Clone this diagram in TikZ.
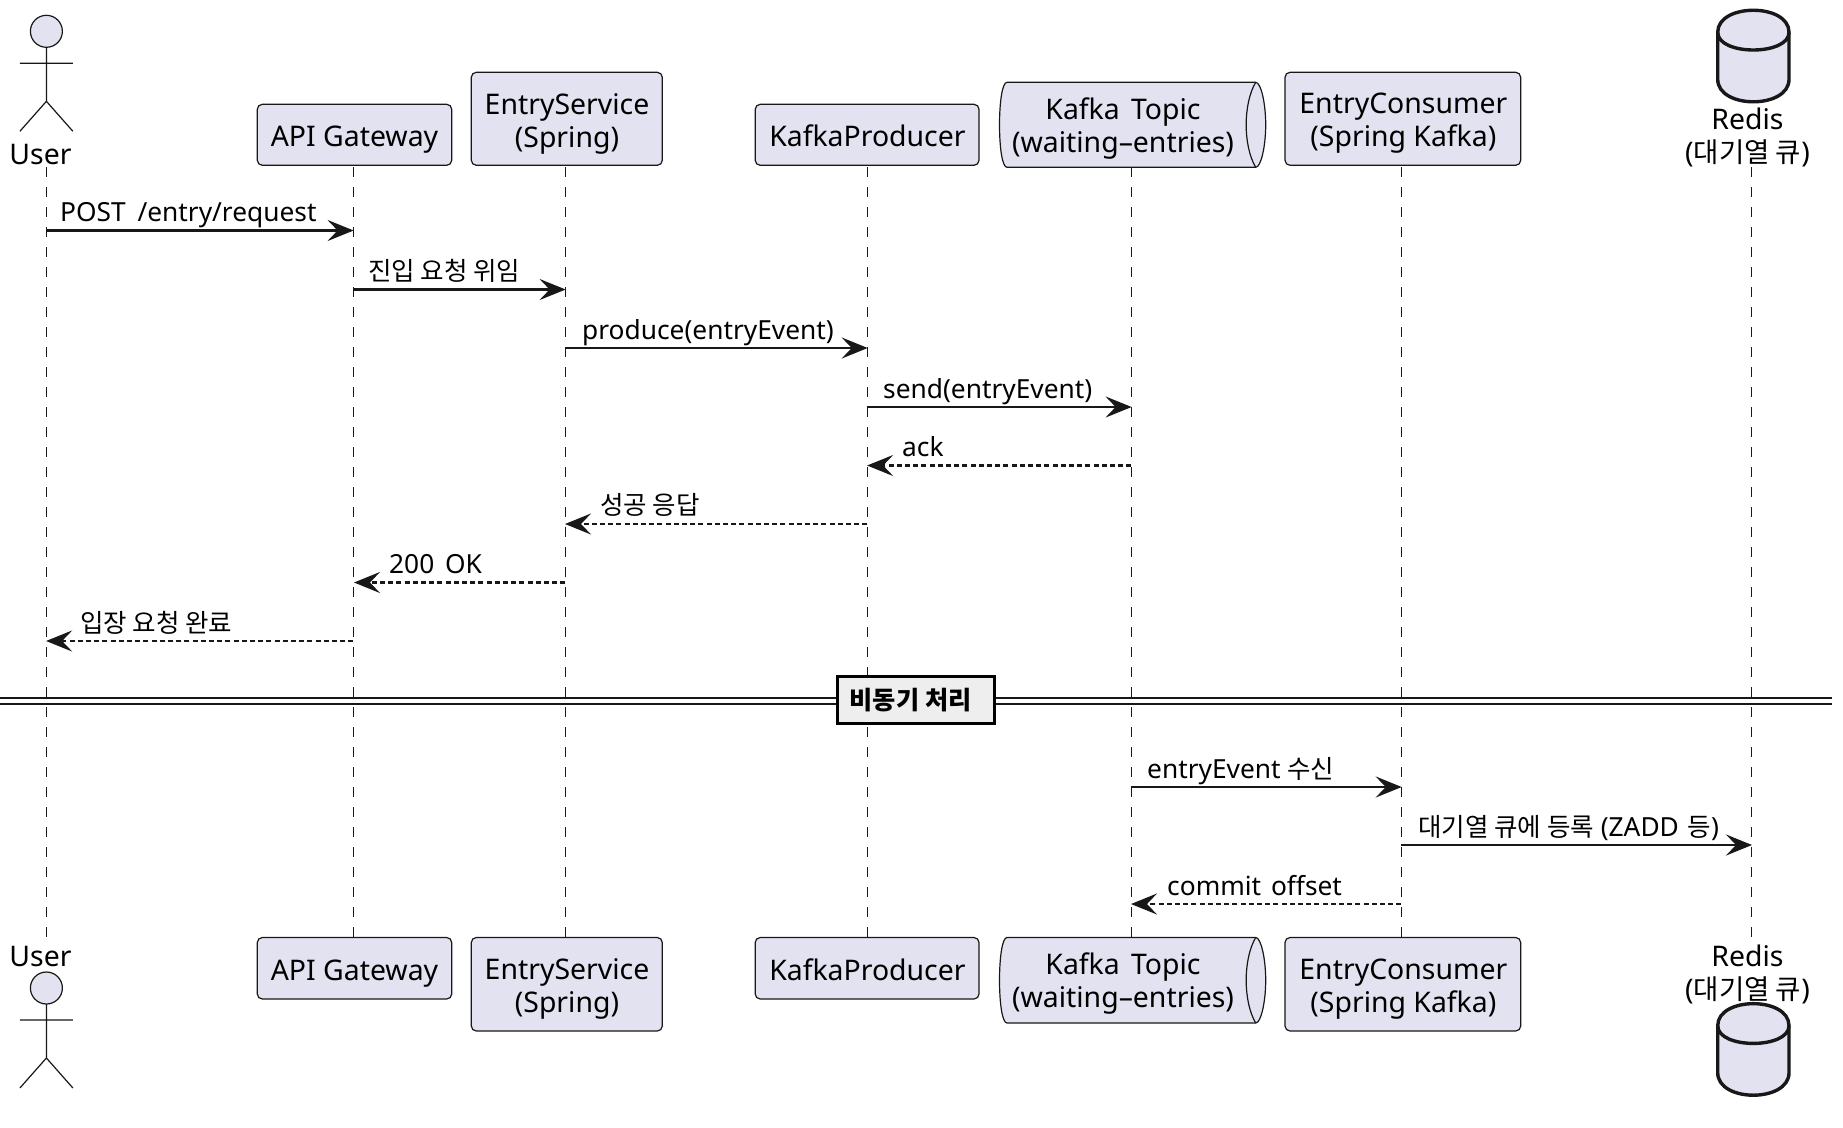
\documentclass[tikz,border=0pt]{standalone}
\usepackage{fontspec}
\setmainfont{Noto Sans}
\newfontfamily\kr[Scale=0.97]{Noto Sans CJK KR}
\usetikzlibrary{arrows.meta}
\definecolor{pfill}{HTML}{E2E2F0}
\definecolor{pline}{HTML}{181818}
\definecolor{dfill}{HTML}{EEEEEE}
\tikzset{x=1pt,y=-1pt,
 pbox/.style={draw=pline,fill=pfill,line width=1.2pt,rounded corners=5pt},
 ptext/.style={font=\fontsize{28.4}{33}\selectfont,text=black,align=center,inner sep=0pt,execute at begin node=\rule{0pt}{23pt},execute at end node=\rule[-7pt]{0pt}{7pt}},
 mtext/.style={font=\fontsize{26.3}{30}\selectfont,text=black,anchor=base west,inner sep=0pt},
 life/.style={draw=pline,line width=1.2pt,dash pattern=on 10.4pt off 9.6pt},
 sync/.style={draw=pline,line width=2.4pt,-{Stealth[length=26pt,width=21pt,inset=10pt]}},
 resp/.style={draw=pline,line width=2.4pt,dash pattern=on 5pt off 3.2pt,-{Stealth[length=26pt,width=21pt,inset=10pt]}},
 actorline/.style={draw=pline,line width=1.2pt},
 dbline/.style={draw=pline,fill=pfill,line width=3.4pt}}
\newcommand{\stick}[2]{%
 \draw[actorline,fill=pfill] (#1,#2+16) ellipse (16 and 16);
 \draw[actorline] (#1,#2+32)--(#1,#2+86) (#1-26.5,#2+48)--(#1+26.5,#2+48) (#1-26.5,#2+116)--(#1,#2+86)--(#1+26.5,#2+116);}
\newcommand{\dbcyl}[1]{%
 \draw[dbline] (1717.7,#1+23) .. controls (1717.7,#1-6.4) and (1789,#1-6.4) .. (1789,#1+23) -- (1789,#1+70) .. controls (1789,#1+100) and (1717.7,#1+100) .. (1717.7,#1+70) -- cycle;
 \draw[draw=pline,line width=3.4pt] (1717.7,#1+23) .. controls (1717.7,#1+46.6) and (1789,#1+46.6) .. (1789,#1+23);}
\newcommand{\topicbox}[2]{%
 \draw[pbox,rounded corners=0pt] (1007,#1) -- (1255.7,#1) .. controls (1261,#1) and (1265.7,#1+#2/4) .. (1265.7,#1+#2/2) .. controls (1265.7,#1+3*#2/4) and (1261,#1+#2) .. (1255.7,#1+#2) -- (1007,#1+#2) .. controls (1002,#1+#2) and (999.5,#1+3*#2/4) .. (999.5,#1+#2/2) .. controls (999.5,#1+#2/4) and (1002,#1) .. (1007,#1) -- cycle;
 \draw[pline,line width=1.2pt] (1255.7,#1) .. controls (1243,#1+#2/4) and (1243,#1+3*#2/4) .. (1255.7,#1+#2);}
\begin{document}
\begin{tikzpicture}
\path[use as bounding box] (0,0) rectangle (1843,1127);
\fill[white] (0,0) rectangle (1843,1127);
% lifelines
\coordinate (uT) at (46.4,167); \coordinate (uB) at (46.4,937);
\coordinate (aT) at (353.3,167); \coordinate (aB) at (353.3,937);
\coordinate (eT) at (565.3,167); \coordinate (eB) at (565.3,937);
\coordinate (kT) at (867.4,167); \coordinate (kB) at (867.4,937);
\coordinate (tT) at (1131.3,167); \coordinate (tB) at (1131.3,937);
\coordinate (cT) at (1401.4,167); \coordinate (cB) at (1401.4,937);
\coordinate (rT) at (1751.8,167); \coordinate (rB) at (1751.8,937);
\foreach \p in {u,a,e,k,t,c,r} \draw[life] (\p T)--(\p B);
% top row
\stick{46.4}{15.3}
\node[ptext] (userT) at (40.5,156) {User};
\draw[pbox] (257.3,104.3) rectangle (451.7,165.3);
\node[ptext] (apiT) at (354.5,138.7) {API Gateway};
\draw[pbox] (471.3,72.3) rectangle (662.3,165.3);
\node[ptext] (esT) at (567,123.8) {EntryService\\(Spring)};
\draw[pbox] (755.2,104.3) rectangle (979,165.3);
\node[ptext] (kpT) at (867.4,138.7) {KafkaProducer};
\topicbox{82.3}{85}
\node[ptext] (ktT) at (1123,129) {Kafka\hspace{4pt} Topic\\(waiting–entries)};
\draw[pbox] (1285,72.3) rectangle (1520.7,165.3);
\node[ptext] (ecT) at (1403.4,123.5) {EntryConsumer\\(Spring Kafka)};
\dbcyl{9.3}
\node[ptext] (redT) at (1747.5,138.8) {Redis\\({\kr 대기열 큐})};
% bottom row
\stick{46.4}{972}
\node[ptext] (userB) at (40.5,958.3) {User};
\draw[pbox] (257.3,937.5) rectangle (451.7,999);
\node[ptext] (apiB) at (354.5,972.2) {API Gateway};
\draw[pbox] (471.3,937.5) rectangle (662.3,1031);
\node[ptext] (esB) at (567,989.1) {EntryService\\(Spring)};
\draw[pbox] (755.2,937.5) rectangle (979,999);
\node[ptext] (kpB) at (867.4,972.2) {KafkaProducer};
\topicbox{937.5}{85.5}
\node[ptext] (ktB) at (1123,984) {Kafka\hspace{4pt} Topic\\(waiting–entries)};
\draw[pbox] (1285,937.5) rectangle (1520.7,1031);
\node[ptext] (ecB) at (1403.4,989.1) {EntryConsumer\\(Spring Kafka)};
\dbcyl{1002.7}
\node[ptext] (redB) at (1747.5,975.3) {Redis\\({\kr 대기열 큐})};
% messages
\coordinate (m1a) at (46.4,230.5); \coordinate (m1b) at (353.6,230.5);
\draw[sync] (m1a)--(m1b); \node[mtext] (t1) at (60,221) {POST\hspace{5pt} /entry/request};
\coordinate (m2a) at (353.3,289.5); \coordinate (m2b) at (565.6,289.5);
\draw[sync] (m2a)--(m2b); \node[mtext] (t2) at (368,280) {\kr 진입 요청 위임};
\coordinate (m3a) at (565.3,348); \coordinate (m3b) at (867.7,348);
\draw[sync] (m3a)--(m3b); \node[mtext] (t3) at (582,339) {produce(entryEvent)};
\coordinate (m4a) at (867.4,407); \coordinate (m4b) at (1131.6,407);
\draw[sync] (m4a)--(m4b); \node[mtext] (t4) at (883,398) {send(entryEvent)};
\coordinate (m5a) at (1131.3,465.5); \coordinate (m5b) at (867.1,465.5);
\draw[resp] (m5a)--(m5b); \node[mtext] (t5) at (902,456) {ack};
\coordinate (m6a) at (867.4,524); \coordinate (m6b) at (565,524);
\draw[resp] (m6a)--(m6b); \node[mtext] (t6) at (600,514) {\kr 성공 응답};
\coordinate (m7a) at (565.3,582.5); \coordinate (m7b) at (354,582.5);
\draw[resp] (m7a)--(m7b); \node[mtext] (t7) at (389,573) {200\hspace{4pt} OK};
\coordinate (m8a) at (353.3,641); \coordinate (m8b) at (46.1,641);
\draw[resp] (m8a)--(m8b); \node[mtext] (t8) at (80,632) {\kr 입장 요청 완료};
\coordinate (m9a) at (1131.3,787); \coordinate (m9b) at (1401.7,787);
\draw[sync] (m9a)--(m9b); \node[mtext] (t9) at (1147,778) {entryEvent {\kr 수신}};
\coordinate (m10a) at (1401.4,845); \coordinate (m10b) at (1752,845);
\draw[sync] (m10a)--(m10b); \node[mtext] (t10) at (1418,836) {{\kr 대기열 큐에 등록} (ZADD\hspace{2pt} {\kr 등})};
\coordinate (m11a) at (1401.4,904); \coordinate (m11b) at (1131,904);
\draw[resp] (m11a)--(m11b); \node[mtext] (t11) at (1167,895) {commit\hspace{3pt} offset};
% divider
\coordinate (dL) at (0,698.3); \coordinate (dR) at (1832,698.3);
\coordinate (dL2) at (0,704.3); \coordinate (dR2) at (1832,704.3);
\draw[pline,line width=2pt] (dL)--(dR) (dL2)--(dR2);
\node[draw=black,line width=3.6pt,fill=dfill,minimum width=157pt,minimum height=47pt,inner sep=0pt,font=\kr\bfseries\fontsize{26}{30}\selectfont] (div) at (916,700) {\raisebox{-1pt}{비동기 처리}\hspace{11pt}\null};
\end{tikzpicture}
\end{document}
